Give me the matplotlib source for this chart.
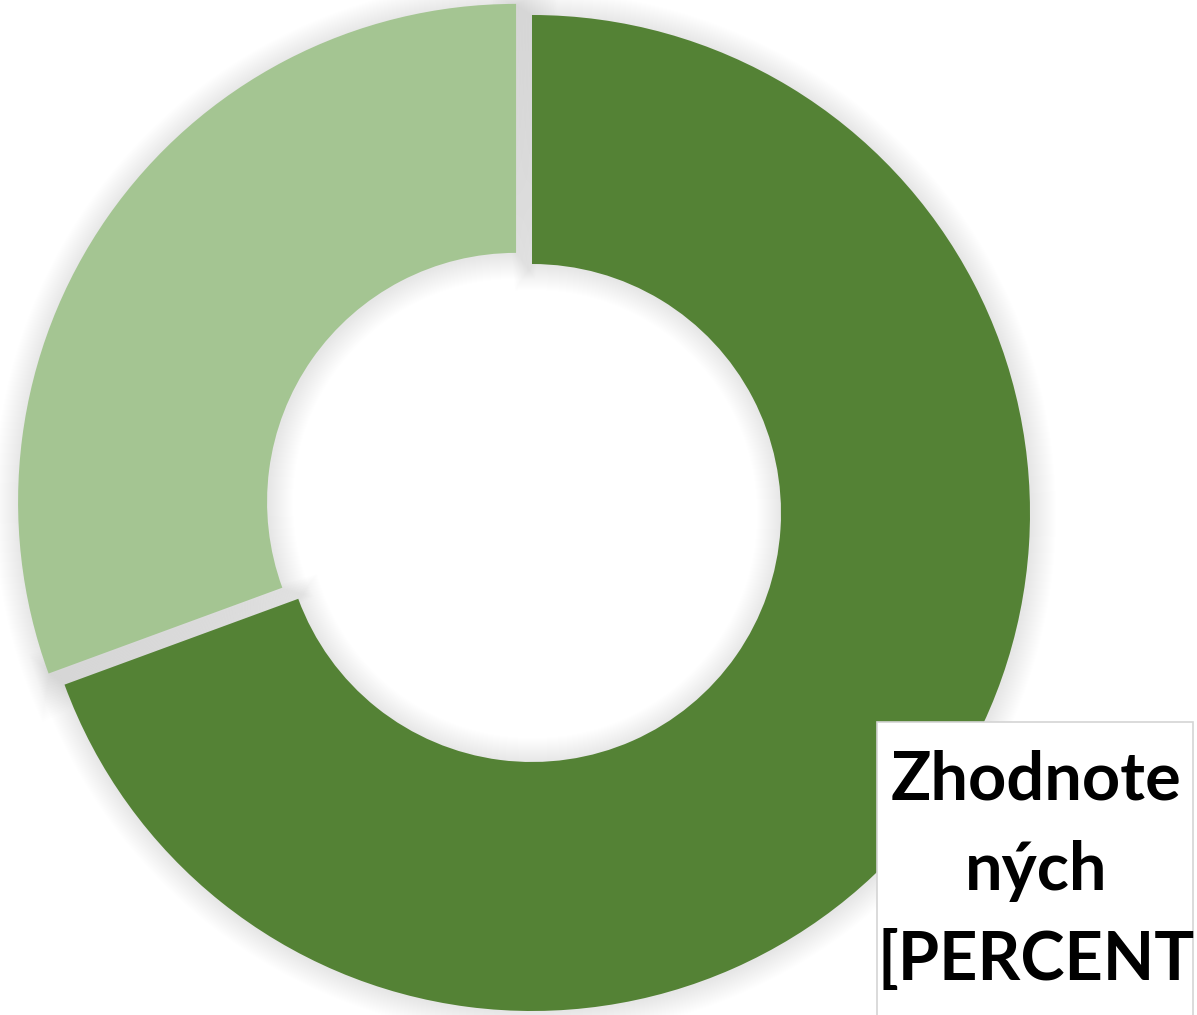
import math

import matplotlib.pyplot as plt
from matplotlib.patches import Rectangle, Wedge

plt.rcParams["font.family"] = ["Lato", "DejaVu Sans"]

# slice values, clockwise from 12 o'clock
categories = ["Zhodnotených", "Nezhodnotených"]
values = [69.4, 30.6]
colors = ["#548235", "#A4C592"]
explode_frac = [0.0, 0.039]
label_lines = ["Zhodnote", "ných", "[PERCENT"]

W, H = 1197, 1015
fig = plt.figure(figsize=(W / 100, H / 100), dpi=100)
ax = fig.add_axes([0, 0, 1, 1])

center = (532, H - 513)
radius = 498
ring = 0.5
explode = [f * radius for f in explode_frac]

# soft drop shadow under each slice (also fills the gaps with grey)
total = sum(values)
start = 90.0
for val, ex in zip(values, explode):
    sweep = 360.0 * val / total
    theta1, theta2 = start - sweep, start
    mid = math.radians((theta1 + theta2) / 2)
    cx = center[0] + ex * math.cos(mid)
    cy = center[1] + ex * math.sin(mid)
    for d in range(1, 26):
        ext = math.degrees(d / (radius * 0.62))
        ax.add_patch(Wedge((cx + 1, cy - 1), radius + d, theta1 - ext, theta2 + ext,
                           width=radius * ring + 2 * d, facecolor="black",
                           edgecolor="none", alpha=0.0055, zorder=1))
    start = theta1

wedges, _ = ax.pie(values, colors=colors, explode=explode, startangle=90,
                   counterclock=False, radius=radius, center=center,
                   wedgeprops=dict(width=radius * ring, edgecolor="none"),
                   frame=True)
for w in wedges:
    w.set_zorder(2)
ax.set_xlim(0, W)
ax.set_ylim(0, H)
ax.set_aspect("equal")
ax.axis("off")

# data label box, cut by the figure edge
ax.add_patch(Rectangle((877, -5), 316, H - 722 + 5, facecolor="white",
                       edgecolor="#d4d4d4", lw=1.2, zorder=3))
for i, line in enumerate(label_lines):
    ax.text(1036, H - 800 - 90 * i, line, ha="center", va="baseline",
            fontsize=48, fontweight="bold", color="black", zorder=4)

fig.savefig("out.png", dpi=100)
